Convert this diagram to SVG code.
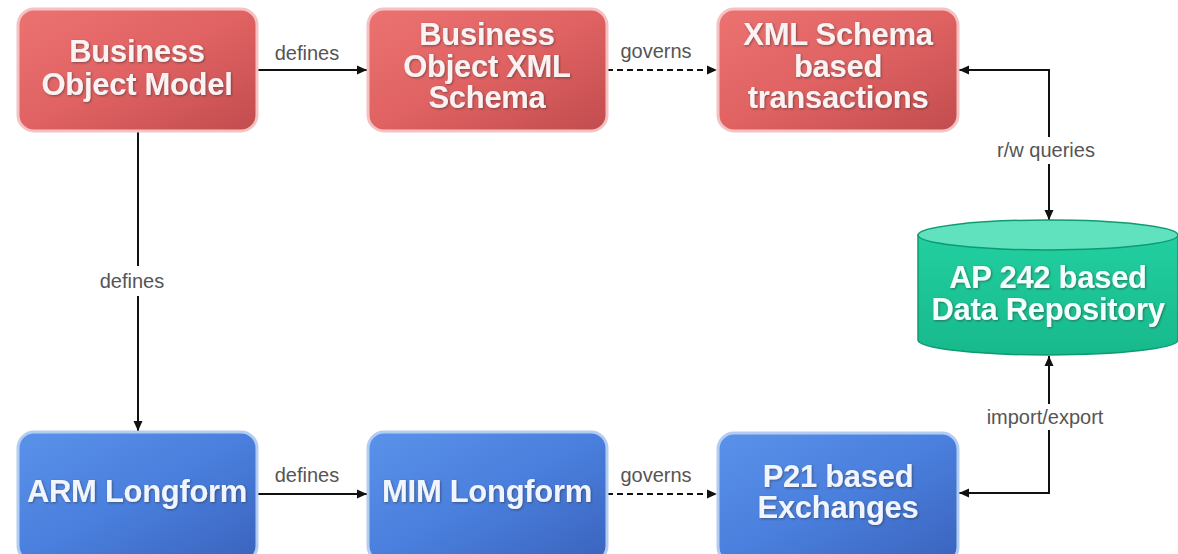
<svg xmlns="http://www.w3.org/2000/svg" width="1178" height="554" viewBox="0 0 1178 554">
<defs>
<linearGradient id="gRed" x1="0" y1="0" x2="1" y2="1">
<stop offset="0" stop-color="#ec7272"/>
<stop offset="0.5" stop-color="#e06262"/>
<stop offset="1" stop-color="#c24c4e"/>
</linearGradient>
<linearGradient id="gBlue" x1="0" y1="0" x2="1" y2="1">
<stop offset="0" stop-color="#5a92ea"/>
<stop offset="0.5" stop-color="#4a7fdd"/>
<stop offset="1" stop-color="#3a63bd"/>
</linearGradient>
<linearGradient id="gGreen" x1="0" y1="0" x2="0" y2="1">
<stop offset="0" stop-color="#22cfa0"/>
<stop offset="1" stop-color="#17b98b"/>
</linearGradient>
<filter id="ts" x="-10%" y="-20%" width="120%" height="140%">
<feDropShadow dx="1" dy="1" stdDeviation="0.8" flood-color="#303030" flood-opacity="0.55"/>
</filter>
<marker id="ah" viewBox="0 0 10 10" refX="10" refY="5" markerWidth="10" markerHeight="10" markerUnits="userSpaceOnUse" orient="auto">
<path d="M0,0.5 L10,5 L0,9.5 Z" fill="#111"/>
</marker>
<style>
.red{fill:url(#gRed);stroke:#f5c2c2;stroke-width:3}
.blue{fill:url(#gBlue);stroke:#b3cdf2;stroke-width:3}
.t{font-family:"Liberation Sans",Arial,sans-serif;font-weight:bold;font-size:31px;fill:#fbf3f3;text-anchor:middle;letter-spacing:-0.3px;filter:url(#ts)}
.tb{fill:#f0f5ff}
.lbl{font-family:"Liberation Sans",Arial,sans-serif;font-size:20px;fill:#555;text-anchor:middle}
.ln{stroke:#111;stroke-width:2;fill:none}
.dash{stroke-dasharray:6,4}
</style>
</defs>
<rect width="1178" height="554" fill="#ffffff"/>

<g id="connectors">
<line class="ln" x1="257" y1="70" x2="367" y2="70" marker-end="url(#ah)"/>
<line class="ln dash" x1="607" y1="70" x2="717" y2="70" marker-end="url(#ah)"/>
<line class="ln" x1="138" y1="132" x2="138" y2="266"/>
<line class="ln" x1="138" y1="296" x2="138" y2="431" marker-end="url(#ah)"/>
<line class="ln" x1="257" y1="494" x2="367" y2="494" marker-end="url(#ah)"/>
<line class="ln dash" x1="607" y1="494" x2="717" y2="494" marker-end="url(#ah)"/>
<polyline class="ln" points="1049,137 1049,70 959,70" marker-end="url(#ah)"/>
<line class="ln" x1="1049" y1="164" x2="1049" y2="220" marker-end="url(#ah)"/>
<polyline class="ln" points="1049,430 1049,493 959,493" marker-end="url(#ah)"/>
<line class="ln" x1="1049" y1="404" x2="1049" y2="356" marker-end="url(#ah)"/>
<text class="lbl" x="307" y="60">defines</text>
<text class="lbl" x="656" y="58">governs</text>
<text class="lbl" x="132" y="288">defines</text>
<text class="lbl" x="307" y="482">defines</text>
<text class="lbl" x="656" y="482">governs</text>
<text class="lbl" x="1046" y="157">r/w queries</text>
<text class="lbl" x="1045" y="424">import/export</text>
</g>

<g id="business-object-model">
<rect class="red" x="18" y="9" width="239" height="122" rx="16"/>
<text class="t" x="137" y="62">Business</text>
<text class="t" x="137" y="95">Object Model</text>
</g>

<g id="business-object-xml-schema">
<rect class="red" x="368" y="9" width="239" height="122" rx="16"/>
<text class="t" x="487" y="45">Business</text>
<text class="t" x="487" y="77">Object XML</text>
<text class="t" x="487" y="108">Schema</text>
</g>

<g id="xml-schema-transactions">
<rect class="red" x="718" y="9" width="240" height="122" rx="16"/>
<text class="t" x="838" y="45">XML Schema</text>
<text class="t" x="838" y="77">based</text>
<text class="t" x="838" y="108">transactions</text>
</g>

<g id="ap242-repository">
<path d="M918,235 L918,340 A130,15 0 0 0 1178,340 L1178,235 Z" fill="url(#gGreen)" stroke="#0f9a72" stroke-width="1.5"/>
<ellipse cx="1048" cy="235" rx="130" ry="15" fill="#5fe2bd" stroke="#0f9a72" stroke-width="1.5"/>
<text class="t" x="1048" y="288" style="fill:#f2fffa">AP 242 based</text>
<text class="t" x="1048" y="320" style="fill:#f2fffa">Data Repository</text>
</g>

<g id="arm-longform">
<rect class="blue" x="18" y="432" width="239" height="130" rx="16"/>
<text class="t tb" x="137" y="502">ARM Longform</text>
</g>

<g id="mim-longform">
<rect class="blue" x="368" y="432" width="239" height="130" rx="16"/>
<text class="t tb" x="487" y="502">MIM Longform</text>
</g>

<g id="p21-exchanges">
<rect class="blue" x="718" y="433" width="240" height="130" rx="16"/>
<text class="t tb" x="838" y="487">P21 based</text>
<text class="t tb" x="838" y="518">Exchanges</text>
</g>
</svg>
